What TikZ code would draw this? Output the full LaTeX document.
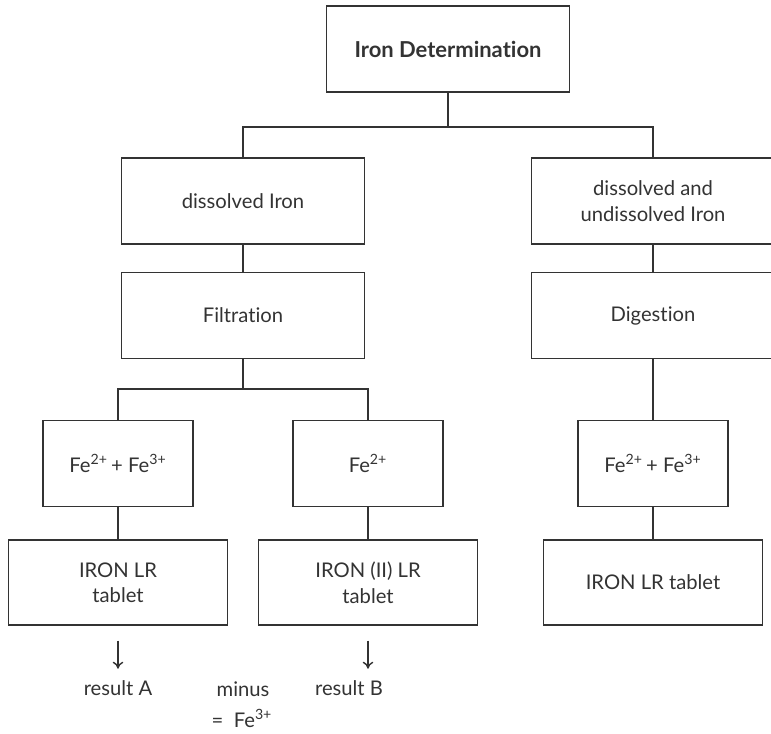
\documentclass[tikz,border=0pt]{standalone}
\usepackage{fontspec}
\setmainfont{Lato}[Ligatures=NoCommon]
\usetikzlibrary{arrows.meta}
\definecolor{ink}{gray}{0.2}
\begin{document}
\begin{tikzpicture}[
    every node/.style={text=ink, font=\fontsize{11.5}{14.5}\selectfont},
    box/.style={draw=ink, line width=0.8pt, align=center, inner sep=0pt, minimum width=4.86cm, minimum height=1.72cm},
    smallbox/.style={box, minimum width=3cm},
    tabbox/.style={box, minimum width=4.38cm, minimum height=1.7cm},
    link/.style={draw=ink, line width=0.8pt},
    arr/.style={link, -{To[length=4pt,width=6pt]}}
  ]
    \useasboundingbox (0,0) rectangle (15.42,-14.66);

    \node [box, font=\fontsize{12.5}{15}\selectfont\bfseries] (iron) at (8.96,-0.98) {Iron Determination};

    \node [box] (dis) at (4.86,-4.02) {dissolved Iron};
    \node [box] (und) at (13.06,-4.02) {dissolved and\\undissolved Iron};

    \node [box] (filt) at (4.86,-6.31) {Filtration};
    \node [box] (dig) at (13.06,-6.31) {Digestion};

    \node [smallbox] (feA) at (2.36,-9.27) {Fe\textsuperscript{2+}\,+ Fe\textsuperscript{3+}};
    \node [smallbox] (feB) at (7.36,-9.27) {Fe\textsuperscript{2+}};
    \node [smallbox] (feC) at (13.06,-9.27) {Fe\textsuperscript{2+}\,+ Fe\textsuperscript{3+}};

    \node [tabbox] (tabA) at (2.36,-11.65) {IRON LR\\tablet};
    \node [tabbox] (tabB) at (7.36,-11.65) {IRON (II) LR\\tablet};
    \node [tabbox] (tabC) at (13.06,-11.65) {IRON LR tablet};

    \coordinate (bus1) at (0,-2.54);
    \coordinate (bus2) at (0,-7.78);

    % tree connectors
    \draw [link] (iron.south) -- (iron.south |- bus1);
    \draw [link] (dis.north) |- (und.north |- bus1) -- (und.north);
    \draw [link] (dis) -- (filt);
    \draw [link] (und) -- (dig);
    \draw [link] (filt.south) -- (filt.south |- bus2);
    \draw [link] (feA.north) |- (feB.north |- bus2) -- (feB.north);
    \draw [link] (dig) -- (feC);
    \draw [link] (feA) -- (tabA);
    \draw [link] (feB) -- (tabB);
    \draw [link] (feC) -- (tabC);

    % results
    \draw [arr] (tabA.south) ++(0,-0.3) -- ++(0,-0.56);
    \draw [arr] (tabB.south) ++(0,-0.3) -- ++(0,-0.56);

    \node (resA) at (2.36,-13.76) {result A};
    \node (minus) at (4.86,-13.78) {minus};
    \node (resB) at (6.98,-13.76) {result B};
    \node [inner sep=0pt] (fe3) at (4.84,-14.37) {=\ \ Fe\textsuperscript{3+}};
\end{tikzpicture}
\end{document}
